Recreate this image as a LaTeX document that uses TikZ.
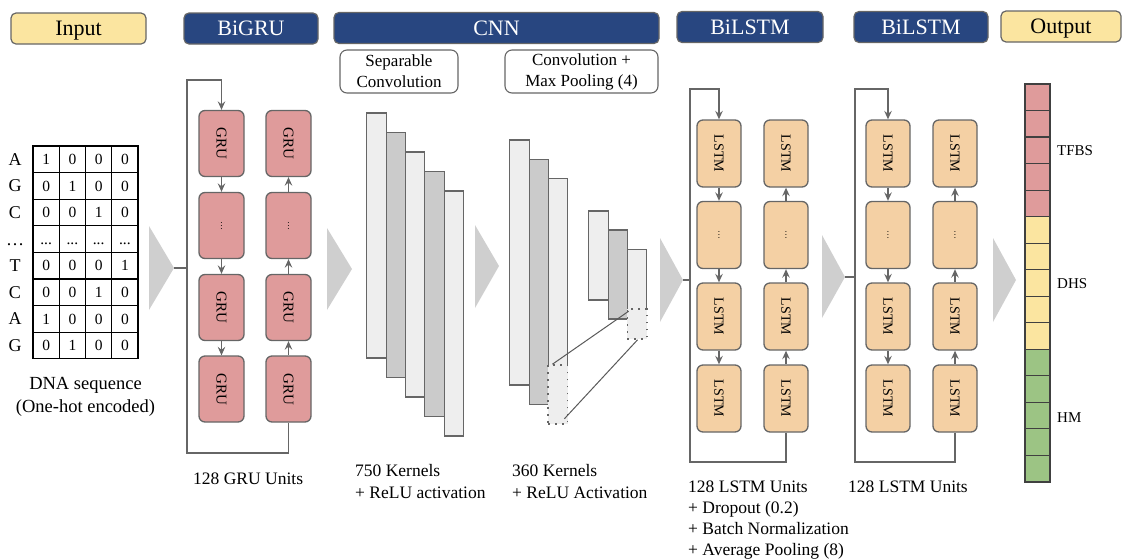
\documentclass[tikz,border=0pt]{standalone}
\usepackage{fontspec}
\setmainfont{Liberation Serif}
\usetikzlibrary{arrows.meta}
\definecolor{cy}{HTML}{FBE5A0}
\definecolor{cb}{HTML}{284680}
\definecolor{bd}{HTML}{666666}
\definecolor{cg}{HTML}{DF9B9B}
\definecolor{cl}{HTML}{F4D0A4}
\definecolor{cgr}{HTML}{9CC484}
\definecolor{cc}{HTML}{666666}
\definecolor{cv}{HTML}{CFCFCF}
\definecolor{ll}{HTML}{EEEEEE}
\definecolor{ld}{HTML}{CBCBCB}
\newcommand\celldots{...}
\newcommand\vdts{\rotatebox{-90}{\fontsize{9}{10}\selectfont\ldots}}
\begin{document}
\begin{tikzpicture}[x=1pt,y=-1pt,
 hdr/.style={draw=bd, line width=1.2pt, rounded corners=5pt, minimum height=31pt, inner sep=0pt, text height=14.5pt, text depth=0pt, font=\fontsize{22}{26}\selectfont},
 hy/.style={hdr, fill=cy},
 hb/.style={hdr, fill=cb, text=white},
 sub/.style={draw=bd, line width=1.1pt, rounded corners=7pt, fill=white, minimum height=43pt, align=center, font=\fontsize{17}{21}\selectfont, inner sep=0pt},
 cell/.style={draw=black, line width=1.2pt, minimum width=26.25pt, minimum height=26.6pt, inner sep=0pt, text height=10.5pt, text depth=0pt, font=\fontsize{15.5}{17}\selectfont},
 lbl/.style={inner sep=0pt, text height=11.9pt, text depth=0pt, font=\fontsize{18}{20}\selectfont},
 gru/.style={draw=bd, fill=cg, line width=1.3pt, rounded corners=6pt, minimum width=45pt, minimum height=66pt, inner sep=0pt, font=\fontsize{15}{16}\selectfont},
 lstm/.style={gru, fill=cl, minimum width=44pt, minimum height=67pt, font=\fontsize{14}{16}\selectfont},
 conn/.style={draw=cc, line width=1.3pt},
 arr/.style={conn, -{Stealth[length=8.5pt,width=7.5pt,inset=3pt]}},
 chev/.style={fill=cv},
 lyrL/.style={draw=bd, fill=ll, line width=1.1pt, minimum width=19.3pt, inner sep=0pt},
 lyrD/.style={lyrL, fill=ld},
 dotb/.style={draw=bd, fill=ll, line width=1.6pt, dash pattern=on 1.6pt off 5.4pt, minimum width=19.3pt, inner sep=0pt},
 ocell/.style={draw=black!75, line width=1.2pt, minimum width=25pt, minimum height=26.53pt, inner sep=0pt},
 captxt/.style={anchor=base west, inner sep=0pt, font=\fontsize{17.5}{21}\selectfont},
 capc/.style={anchor=base, inner sep=0pt, font=\fontsize{18.5}{22}\selectfont},
 olbl/.style={anchor=base west, inner sep=0pt, font=\fontsize{15}{17}\selectfont}
]
\useasboundingbox (0,0) rectangle (1122,558);

% headers
\node[hy, minimum width=135pt] (hIn) at (78.5,28.5) {Input};
\node[hb, minimum width=134pt] (hGru) at (251,28.5) {BiGRU};
\node[hb, minimum width=325pt] (hCnn) at (496.5,28) {CNN};
\node[hb, minimum width=146pt] (hL1) at (750,27) {BiLSTM};
\node[hb, minimum width=134pt] (hL2) at (921,27) {BiLSTM};
\node[hy, minimum width=120pt] (hOut) at (1061,26.5) {Output};
\node[sub, minimum width=118pt] (sSep) at (399,71.5) {Separable\\Convolution};
\node[sub, minimum width=153pt] (sMax) at (581.5,71.5) {Convolution +\\Max Pooling (4)};

% input grid
\foreach \L/\a/\b/\c/\d [count=\r] in {A/1/0/0/0, G/0/1/0/0, C/0/0/1/0, {\ldots}/\celldots/\celldots/\celldots/\celldots, T/0/0/0/1, C/0/0/1/0, A/1/0/0/0, G/0/1/0/0}{
  \node[lbl] (L\r) at (15,{146+26.6*(\r-0.5)}) {\L};
  \node[cell] (x\r a) at ({33+26.25*0.5},{146+26.6*(\r-0.5)}) {\a};
  \node[cell] (x\r b) at ({33+26.25*1.5},{146+26.6*(\r-0.5)}) {\b};
  \node[cell] (x\r c) at ({33+26.25*2.5},{146+26.6*(\r-0.5)}) {\c};
  \node[cell] (x\r d) at ({33+26.25*3.5},{146+26.6*(\r-0.5)}) {\d};
}
\node[capc] (dna1) at (85.5,389) {DNA sequence};
\node[capc] (dna2) at (85.5,412) {(One-hot encoded)};

% chevrons
\coordinate (t1) at (174,268); \fill[chev] (149,226) -- (t1) -- (149,310) -- cycle;
\coordinate (t2) at (352,269); \fill[chev] (327,228) -- (t2) -- (327,310) -- cycle;
\coordinate (t3) at (499,266); \fill[chev] (475,225) -- (t3) -- (475,308) -- cycle;
\coordinate (t4) at (683,280); \fill[chev] (660,238) -- (t4) -- (660,322) -- cycle;
\coordinate (t5) at (845,277); \fill[chev] (822,235) -- (t5) -- (822,318) -- cycle;
\coordinate (t6) at (1016,280); \fill[chev] (993,238) -- (t6) -- (993,322) -- cycle;

% BiGRU
\node[gru] (g11) at (221.5,143.5) {\rotatebox{-90}{GRU}};
\node[gru] (g12) at (221.5,225.5) {\vdts};
\node[gru] (g13) at (221.5,307.5) {\rotatebox{-90}{GRU}};
\node[gru] (g14) at (221.5,389) {\rotatebox{-90}{GRU}};
\node[gru] (g21) at (288.5,143.5) {\rotatebox{-90}{GRU}};
\node[gru] (g22) at (288.5,225.5) {\vdts};
\node[gru] (g23) at (288.5,307.5) {\rotatebox{-90}{GRU}};
\node[gru] (g24) at (288.5,389) {\rotatebox{-90}{GRU}};
\draw[arr] (g11) -- (g12);
\draw[arr] (g12) -- (g13);
\draw[arr] (g13) -- (g14);
\draw[arr] (g24) -- (g23);
\draw[arr] (g23) -- (g22);
\draw[arr] (g22) -- (g21);
\coordinate (gt) at (187,80);
\coordinate (gb) at (187,453);
\draw[arr] (g24.south) |- (gb) -- (gt) -| (g11.north);
\draw[conn] (t1) -- (t1 -| gb);
\node[captxt] (gcap) at (193,484) {128 GRU Units};

% CNN layers
\node[lyrL, minimum height=245pt] (c11) at (376.5,235.5) {};
\node[lyrD, minimum height=245pt] (c12) at (395.8,255) {};
\node[lyrL, minimum height=245pt] (c13) at (415.1,274.5) {};
\node[lyrD, minimum height=245pt] (c14) at (434.4,294) {};
\node[lyrL, minimum height=245pt] (c15) at (453.7,313.5) {};
\node[lyrL, minimum height=245pt] (c21) at (519.5,262.5) {};
\node[lyrD, minimum height=245pt] (c22) at (538.7,281.8) {};
\node[lyrL, minimum height=245pt] (c23) at (557.9,301) {};
\node[dotb, minimum height=59pt] (d2) at (557.9,394.5) {};
\node[lyrL, minimum height=89pt] (c31) at (598.5,255.5) {};
\node[lyrD, minimum height=89pt] (c32) at (617.8,274.5) {};
\node[lyrL, minimum height=89pt] (c33) at (637.1,294) {};
\node[dotb, minimum height=30pt] (d3) at (637.1,324) {};
\draw[draw=black!65, line width=1pt] ([xshift=5pt]d2.north west) -- ([xshift=2pt,yshift=-3pt]d3.north west);
\draw[draw=black!65, line width=1pt] ([xshift=-4pt,yshift=6pt]d2.south east) -- ([xshift=-10pt]d3.south east);
\node[captxt] (k1a) at (355,476) {750 Kernels};
\node[captxt] (k1b) at (355,498) {+ ReLU activation};
\node[captxt] (k2a) at (512,476) {360 Kernels};
\node[captxt] (k2b) at (512,498) {+ ReLU Activation};

% BiLSTM 1
\node[lstm] (l11) at (719,153.5) {\rotatebox{-90}{LSTM}};
\node[lstm] (l12) at (719,235) {\vdts};
\node[lstm] (l13) at (719,316.5) {\rotatebox{-90}{LSTM}};
\node[lstm] (l14) at (719,398.5) {\rotatebox{-90}{LSTM}};
\node[lstm] (l21) at (786,153.5) {\rotatebox{-90}{LSTM}};
\node[lstm] (l22) at (786,235) {\vdts};
\node[lstm] (l23) at (786,316.5) {\rotatebox{-90}{LSTM}};
\node[lstm] (l24) at (786,398.5) {\rotatebox{-90}{LSTM}};
\draw[arr] (l11) -- (l12);
\draw[arr] (l12) -- (l13);
\draw[arr] (l13) -- (l14);
\draw[arr] (l24) -- (l23);
\draw[arr] (l23) -- (l22);
\draw[arr] (l22) -- (l21);
\coordinate (lt) at (690,89);
\coordinate (lb) at (690,462);
\draw[arr] (l24.south) |- (lb) -- (lt) -| (l11.north);
\draw[conn] (t4) -- (t4 -| lb);
\node[captxt] (la) at (688,492) {128 LSTM Units};
\node[captxt] (lbb) at (688,513) {+ Dropout (0.2)};
\node[captxt] (lc) at (688,534) {+ Batch Normalization};
\node[captxt] (ld) at (688,555) {+ Average Pooling (8)};

% BiLSTM 2
\node[lstm] (m11) at (888,153.5) {\rotatebox{-90}{LSTM}};
\node[lstm] (m12) at (888,235) {\vdts};
\node[lstm] (m13) at (888,316.5) {\rotatebox{-90}{LSTM}};
\node[lstm] (m14) at (888,398.5) {\rotatebox{-90}{LSTM}};
\node[lstm] (m21) at (955,153.5) {\rotatebox{-90}{LSTM}};
\node[lstm] (m22) at (955,235) {\vdts};
\node[lstm] (m23) at (955,316.5) {\rotatebox{-90}{LSTM}};
\node[lstm] (m24) at (955,398.5) {\rotatebox{-90}{LSTM}};
\draw[arr] (m11) -- (m12);
\draw[arr] (m12) -- (m13);
\draw[arr] (m13) -- (m14);
\draw[arr] (m24) -- (m23);
\draw[arr] (m23) -- (m22);
\draw[arr] (m22) -- (m21);
\coordinate (mt) at (855,89);
\coordinate (mb) at (855,462);
\draw[arr] (m24.south) |- (mb) -- (mt) -| (m11.north);
\draw[conn] (t5) -- (t5 -| mb);
\node[captxt] (ma) at (848,492) {128 LSTM Units};

% output
\foreach \i in {0,...,4} \node[ocell, fill=cg] (o\i) at (1037.5,{84+26.53*(\i+0.5)}) {};
\foreach \i in {5,...,9} \node[ocell, fill=cy] (o\i) at (1037.5,{84+26.53*(\i+0.5)}) {};
\foreach \i in {10,...,14} \node[ocell, fill=cgr] (o\i) at (1037.5,{84+26.53*(\i+0.5)}) {};
\node[olbl] (tf) at (1057,155) {TFBS};
\node[olbl] (dh) at (1057,288) {DHS};
\node[olbl] (hm) at (1057,422) {HM};
\end{tikzpicture}
\end{document}
